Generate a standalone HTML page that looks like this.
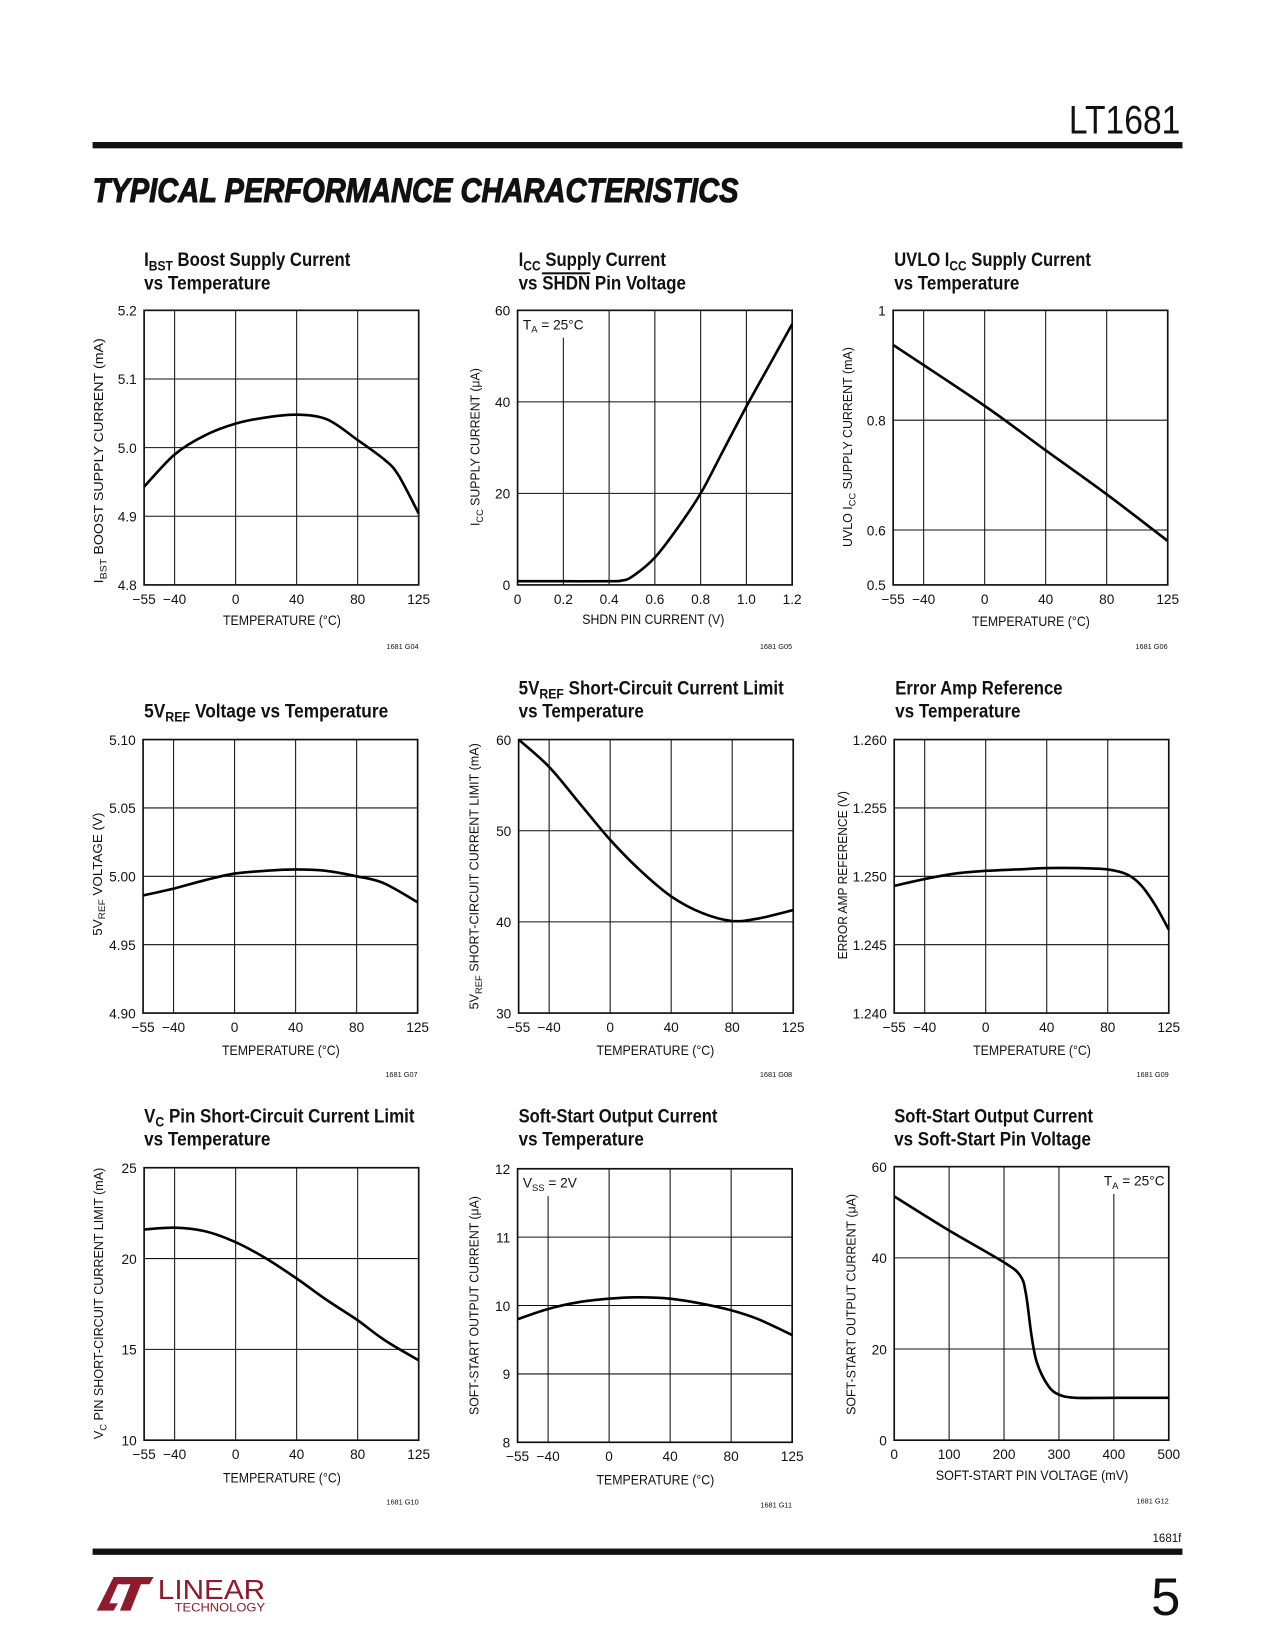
<!DOCTYPE html>
<html><head><meta charset="utf-8"><style>
html,body{margin:0;padding:0;background:#fff;}
svg{display:block;}
text{font-family:"Liberation Sans",sans-serif;fill:#111;}
</style></head><body>
<svg id="page" width="1275" height="1650" viewBox="0 0 1275 1650" xmlns="http://www.w3.org/2000/svg">
<g id="root" transform="scale(1.052)">
<text x="1122" y="127" font-size="38" text-anchor="end" textLength="106" lengthAdjust="spacingAndGlyphs">LT1681</text>
<rect x="88" y="135" width="1036" height="6" fill="#111"/>
<text x="88" y="192" font-size="33" font-weight="bold" font-style="italic" textLength="614" lengthAdjust="spacingAndGlyphs" stroke="#111" stroke-width="1">TYPICAL PERFORMANCE CHARACTERISTICS</text>

<g font-size="18" font-weight="bold">
<text x="137" y="253" textLength="196" lengthAdjust="spacingAndGlyphs">I<tspan font-size="13" dy="4">BST</tspan><tspan dy="-4"> Boost Supply Current</tspan></text>
<text x="137" y="275" textLength="120" lengthAdjust="spacingAndGlyphs">vs Temperature</text>
<text x="493" y="253" textLength="140" lengthAdjust="spacingAndGlyphs">I<tspan font-size="13" dy="4">CC</tspan><tspan dy="-4"> Supply Current</tspan></text>
<text x="493" y="275" textLength="159" lengthAdjust="spacingAndGlyphs">vs <tspan text-decoration="overline">SHDN</tspan> Pin Voltage</text>
<line x1="515" y1="260" x2="558" y2="260" stroke="#111" stroke-width="1.5"/>
<text x="850" y="253" textLength="187" lengthAdjust="spacingAndGlyphs">UVLO I<tspan font-size="13" dy="4">CC</tspan><tspan dy="-4"> Supply Current</tspan></text>
<text x="850" y="275" textLength="119" lengthAdjust="spacingAndGlyphs">vs Temperature</text>
<text x="137" y="682" textLength="232" lengthAdjust="spacingAndGlyphs">5V<tspan font-size="13" dy="4">REF</tspan><tspan dy="-4"> Voltage vs Temperature</tspan></text>
<text x="493" y="660" textLength="252" lengthAdjust="spacingAndGlyphs">5V<tspan font-size="13" dy="4">REF</tspan><tspan dy="-4"> Short-Circuit Current Limit</tspan></text>
<text x="493" y="682" textLength="119" lengthAdjust="spacingAndGlyphs">vs Temperature</text>
<text x="851" y="660" textLength="159" lengthAdjust="spacingAndGlyphs">Error Amp Reference</text>
<text x="851" y="682" textLength="119" lengthAdjust="spacingAndGlyphs">vs Temperature</text>
<text x="137" y="1067" textLength="257" lengthAdjust="spacingAndGlyphs">V<tspan font-size="13" dy="4">C</tspan><tspan dy="-4"> Pin Short-Circuit Current Limit</tspan></text>
<text x="137" y="1089" textLength="120" lengthAdjust="spacingAndGlyphs">vs Temperature</text>
<text x="493" y="1067" textLength="189" lengthAdjust="spacingAndGlyphs">Soft-Start Output Current</text>
<text x="493" y="1089" textLength="119" lengthAdjust="spacingAndGlyphs">vs Temperature</text>
<text x="850" y="1067" textLength="189" lengthAdjust="spacingAndGlyphs">Soft-Start Output Current</text>
<text x="850" y="1089" textLength="187" lengthAdjust="spacingAndGlyphs">vs Soft-Start Pin Voltage</text>
</g>

<g font-size="12">
<text transform="translate(98,438) rotate(-90)" text-anchor="middle" textLength="233" lengthAdjust="spacingAndGlyphs">I<tspan font-size="9" dy="3">BST</tspan><tspan dy="-3"> BOOST SUPPLY CURRENT (mA)</tspan></text>
<text transform="translate(456,425) rotate(-90)" text-anchor="middle" textLength="150" lengthAdjust="spacingAndGlyphs">I<tspan font-size="9" dy="3">CC</tspan><tspan dy="-3"> SUPPLY CURRENT (μA)</tspan></text>
<text transform="translate(810,425) rotate(-90)" text-anchor="middle" textLength="190" lengthAdjust="spacingAndGlyphs">UVLO I<tspan font-size="9" dy="3">CC</tspan><tspan dy="-3"> SUPPLY CURRENT (mA)</tspan></text>
<text transform="translate(97,831) rotate(-90)" text-anchor="middle" textLength="117" lengthAdjust="spacingAndGlyphs">5V<tspan font-size="9" dy="3">REF</tspan><tspan dy="-3"> VOLTAGE (V)</tspan></text>
<text transform="translate(455,833) rotate(-90)" text-anchor="middle" textLength="253" lengthAdjust="spacingAndGlyphs">5V<tspan font-size="9" dy="3">REF</tspan><tspan dy="-3"> SHORT-CIRCUIT CURRENT LIMIT (mA)</tspan></text>
<text transform="translate(805,832) rotate(-90)" text-anchor="middle" textLength="160" lengthAdjust="spacingAndGlyphs">ERROR AMP REFERENCE (V)</text>
<text transform="translate(98,1239) rotate(-90)" text-anchor="middle" textLength="258" lengthAdjust="spacingAndGlyphs">V<tspan font-size="9" dy="3">C</tspan><tspan dy="-3"> PIN SHORT-CIRCUIT CURRENT LIMIT (mA)</tspan></text>
<text transform="translate(455,1241) rotate(-90)" text-anchor="middle" textLength="208" lengthAdjust="spacingAndGlyphs">SOFT-START OUTPUT CURRENT (μA)</text>
<text transform="translate(813,1240) rotate(-90)" text-anchor="middle" textLength="210" lengthAdjust="spacingAndGlyphs">SOFT-START OUTPUT CURRENT (μA)</text>
</g>

<g font-size="13" text-anchor="middle">
<text x="268" y="594" textLength="112" lengthAdjust="spacingAndGlyphs">TEMPERATURE (°C)</text>
<text x="621" y="593" textLength="135" lengthAdjust="spacingAndGlyphs">SHDN PIN CURRENT (V)</text>
<text x="980" y="595" textLength="112" lengthAdjust="spacingAndGlyphs">TEMPERATURE (°C)</text>
<text x="267" y="1003" textLength="112" lengthAdjust="spacingAndGlyphs">TEMPERATURE (°C)</text>
<text x="623" y="1003" textLength="112" lengthAdjust="spacingAndGlyphs">TEMPERATURE (°C)</text>
<text x="981" y="1003" textLength="112" lengthAdjust="spacingAndGlyphs">TEMPERATURE (°C)</text>
<text x="268" y="1409" textLength="112" lengthAdjust="spacingAndGlyphs">TEMPERATURE (°C)</text>
<text x="623" y="1411" textLength="112" lengthAdjust="spacingAndGlyphs">TEMPERATURE (°C)</text>
<text x="981" y="1407" textLength="183" lengthAdjust="spacingAndGlyphs">SOFT-START PIN VOLTAGE (mV)</text>
</g>

<g font-size="7" text-anchor="end">
<text x="398" y="617">1681 G04</text>
<text x="753" y="617">1681 G05</text>
<text x="1110" y="617">1681 G06</text>
<text x="397" y="1024">1681 G07</text>
<text x="753" y="1024">1681 G08</text>
<text x="1111" y="1024">1681 G09</text>
<text x="398" y="1430">1681 G10</text>
<text x="753" y="1433">1681 G11</text>
<text x="1111" y="1429">1681 G12</text>
</g>

<g id="charts"></g>

<text x="1123" y="1466" font-size="11" text-anchor="end">1681f</text>
<rect x="88" y="1472" width="1036" height="6" fill="#111"/>
<g>
<polygon points="92,1531 108,1499 126,1499 120,1506 112,1506 104,1524 112,1524 108,1531" fill="#8e1b2d"/>
<polygon points="114,1531 124,1506 116,1506 120,1499 146,1499 142,1506 134,1506 124,1531" fill="#8e1b2d"/>
<text x="150" y="1520" font-size="26" style="fill:#8e1b2d" textLength="102" lengthAdjust="spacingAndGlyphs">LINEAR</text>
<text x="166" y="1532" font-size="11" style="fill:#8e1b2d" textLength="86" lengthAdjust="spacingAndGlyphs">TECHNOLOGY</text>
</g>
<text x="1122" y="1535" font-size="50" text-anchor="end">5</text>
</g>
</svg>
<script>
const tempTicks = [-55, -40, 0, 40, 80, 125];
const tempTickLabels = ["\u221255", "\u221240", "0", "40", "80", "125"];
const tempGrid = [-40, 0, 40, 80];

const c1Temp = [-55, -40, -20, 0, 20, 40, 60, 80, 100, 110, 125];
const c1Current = [4.943, 4.99, 5.018, 5.035, 5.044, 5.048, 5.041, 5.011, 4.982, 4.96, 4.904];
const c1YTicks = [4.8, 4.9, 5.0, 5.1, 5.2];
const c1YLabels = ["4.8", "4.9", "5.0", "5.1", "5.2"];

const c2Volt = [0, 0.2, 0.4, 0.45, 0.5, 0.6, 0.7, 0.8, 0.9, 1.0, 1.1, 1.2];
const c2Current = [0.8, 0.8, 0.8, 0.9, 1.8, 6, 12.5, 20, 29.5, 39, 48, 57];
const c2XTicks = [0, 0.2, 0.4, 0.6, 0.8, 1.0, 1.2];
const c2XLabels = ["0", "0.2", "0.4", "0.6", "0.8", "1.0", "1.2"];
const c2YTicks = [0, 20, 40, 60];
const c2YLabels = ["0", "20", "40", "60"];

const c3Temp = [-55, 0, 40, 80, 125];
const c3Current = [0.937, 0.826, 0.745, 0.665, 0.58];
const c3YTicks = [0.5, 0.6, 0.8, 1.0];
const c3YLabels = ["0.5", "0.6", "0.8", "1"];

const c4Temp = [-55, -40, -20, 0, 20, 40, 60, 80, 100, 125];
const c4Volt = [4.986, 4.991, 4.997, 5.002, 5.004, 5.005, 5.004, 5.0, 4.995, 4.981];
const c4YTicks = [4.90, 4.95, 5.00, 5.05, 5.10];
const c4YLabels = ["4.90", "4.95", "5.00", "5.05", "5.10"];

const c5Temp = [-55, -40, -20, 0, 20, 40, 60, 80, 100, 125];
const c5Limit = [60, 57, 53, 49, 45.6, 42.8, 41, 40.1, 40.4, 41.3];
const c5YTicks = [30, 40, 50, 60];
const c5YLabels = ["30", "40", "50", "60"];

const c6Temp = [-55, -40, -20, 0, 20, 40, 60, 80, 95, 105, 115, 125];
const c6Ref = [1.2493, 1.2498, 1.2502, 1.2504, 1.2505, 1.2506, 1.2506, 1.2505, 1.2501, 1.2493, 1.2479, 1.2461];
const c6YTicks = [1.240, 1.245, 1.250, 1.255, 1.260];
const c6YLabels = ["1.240", "1.245", "1.250", "1.255", "1.260"];

const c7Temp = [-55, -40, -20, 0, 20, 40, 60, 80, 100, 125];
const c7Limit = [21.6, 21.7, 21.5, 20.9, 20.0, 18.9, 17.7, 16.6, 15.5, 14.4];
const c7YTicks = [10, 15, 20, 25];
const c7YLabels = ["10", "15", "20", "25"];

const c8Temp = [-55, -40, -20, 0, 20, 40, 60, 80, 100, 125];
const c8Current = [9.8, 9.95, 10.05, 10.1, 10.12, 10.1, 10.03, 9.93, 9.8, 9.57];
const c8YTicks = [8, 9, 10, 11, 12];
const c8YLabels = ["8", "9", "10", "11", "12"];

const c9Volt = [0, 100, 200, 230, 240, 250, 260, 280, 300, 330, 400, 500];
const c9Current = [53.5, 46, 39, 36, 32, 23, 17, 12, 10, 9.3, 9.3, 9.3];
const c9XTicks = [0, 100, 200, 300, 400, 500];
const c9XLabels = ["0", "100", "200", "300", "400", "500"];
const c9YTicks = [0, 20, 40, 60];
const c9YLabels = ["0", "20", "40", "60"];

const NS = "http://www.w3.org/2000/svg";
const host = document.getElementById("charts");
function el(tag, attrs, parent) {
  const e = document.createElementNS(NS, tag);
  for (const k in attrs) e.setAttribute(k, attrs[k]);
  (parent || host).appendChild(e);
  return e;
}
// temperature axis (piecewise): -55→0, -40→0.5, 0→1.5, 40→2.5, 80→3.5, 125→4.5 divisions
function tempFrac(t) {
  let d;
  if (t <= -40) d = (t + 55) / 15 * 0.5;
  else if (t <= 80) d = 0.5 + (t + 40) / 40;
  else d = 3.5 + (t - 80) / 45;
  return d / 4.5;
}
function linFrac(min, max) { return v => (v - min) / (max - min); }

function smoothPath(pts) {
  let d = "M" + pts[0][0].toFixed(1) + "," + pts[0][1].toFixed(1);
  for (let i = 0; i < pts.length - 1; i++) {
    const p0 = pts[i - 1] || pts[i], p1 = pts[i], p2 = pts[i + 1], p3 = pts[i + 2] || p2;
    const c1x = p1[0] + (p2[0] - p0[0]) / 6, c1y = p1[1] + (p2[1] - p0[1]) / 6;
    const c2x = p2[0] - (p3[0] - p1[0]) / 6, c2y = p2[1] - (p3[1] - p1[1]) / 6;
    d += " C" + c1x.toFixed(1) + "," + c1y.toFixed(1) + " " + c2x.toFixed(1) + "," + c2y.toFixed(1) + " " + p2[0].toFixed(1) + "," + p2[1].toFixed(1);
  }
  return d;
}

function chart(n, box, xf, yf, xGrid, yGrid, xTicks, xLabels, yTicks, yLabels, xs, ys, note) {
  const g = el("g", {});
  
  
  const W = box.R - box.L, H = box.B - box.T;
  const X = v => box.L + xf(v) * W;
  const Y = v => box.B - yf(v) * H;
  xGrid.forEach(v => {
    const y1 = (note && note.gridX === v) ? box.T + 26 : box.T;
    const ln = el("line", {x1: X(v), x2: X(v), y1: y1, y2: box.B, stroke: "#111", "stroke-width": 1}, g);
    
    
  });
  yGrid.forEach(v => {
    const ln = el("line", {x1: box.L, x2: box.R, y1: Y(v), y2: Y(v), stroke: "#111", "stroke-width": 1}, g);
    
    
  });
  const fr = el("rect", {x: box.L, y: box.T, width: W, height: H, fill: "none", stroke: "#111", "stroke-width": 1.6}, g);
  
  
  xTicks.forEach((v, i) => {
    const t = el("text", {x: X(v), y: box.B + 18, "font-size": 13, "text-anchor": "middle"}, g);
    
    
    t.textContent = xLabels[i];
  });
  yTicks.forEach((v, i) => {
    const t = el("text", {x: box.L - 7, y: Y(v) + 5, "font-size": 13, "text-anchor": "end"}, g);
    
    
    t.textContent = yLabels[i];
  });
  const pts = xs.map((v, i) => [X(v), Y(ys[i])]);
  const p = el("path", {d: smoothPath(pts), fill: "none", stroke: "#000", "stroke-width": 2.5, "stroke-linejoin": "round"}, g);
  
  
  if (note) {
    const t = el("text", {x: note.right ? box.R - 4 : box.L + 5, y: box.T + 18, "font-size": 13, "text-anchor": note.right ? "end" : "start"}, g);
    
    
    t.innerHTML = note.html;
  }
}

chart(1, {L:137,R:398,T:295,B:556}, tempFrac, linFrac(4.8,5.2), tempGrid, [4.9,5.0,5.1], tempTicks, tempTickLabels, c1YTicks, c1YLabels, c1Temp, c1Current);
chart(2, {L:492,R:753,T:295,B:556}, linFrac(0,1.2), linFrac(0,60), [0.2,0.4,0.6,0.8,1.0], [20,40], c2XTicks, c2XLabels, c2YTicks, c2YLabels, c2Volt, c2Current,
  {gridX:0.2, html:'T<tspan font-size="9" dy="3">A</tspan><tspan dy="-3"> = 25°C</tspan>'});
chart(3, {L:849,R:1110,T:295,B:556}, tempFrac, linFrac(0.5,1.0), tempGrid, [0.6,0.8], tempTicks, tempTickLabels, c3YTicks, c3YLabels, c3Temp, c3Current);
chart(4, {L:136,R:397,T:703,B:963}, tempFrac, linFrac(4.9,5.1), tempGrid, [4.95,5.0,5.05], tempTicks, tempTickLabels, c4YTicks, c4YLabels, c4Temp, c4Volt);
chart(5, {L:493,R:754,T:703,B:963}, tempFrac, linFrac(30,60), tempGrid, [40,50], tempTicks, tempTickLabels, c5YTicks, c5YLabels, c5Temp, c5Limit);
chart(6, {L:850,R:1111,T:703,B:963}, tempFrac, linFrac(1.24,1.26), tempGrid, [1.245,1.25,1.255], tempTicks, tempTickLabels, c6YTicks, c6YLabels, c6Temp, c6Ref);
chart(7, {L:137,R:398,T:1110,B:1369}, tempFrac, linFrac(10,25), tempGrid, [15,20], tempTicks, tempTickLabels, c7YTicks, c7YLabels, c7Temp, c7Limit);
chart(8, {L:492,R:753,T:1111,B:1371}, tempFrac, linFrac(8,12), tempGrid, [9,10,11], tempTicks, tempTickLabels, c8YTicks, c8YLabels, c8Temp, c8Current,
  {gridX:-40, html:'V<tspan font-size="9" dy="3">SS</tspan><tspan dy="-3"> = 2V</tspan>'});
chart(9, {L:850,R:1111,T:1109,B:1369}, linFrac(0,500), linFrac(0,60), [100,200,300,400], [20,40], c9XTicks, c9XLabels, c9YTicks, c9YLabels, c9Volt, c9Current,
  {gridX:400, right:true, html:'T<tspan font-size="9" dy="3">A</tspan><tspan dy="-3"> = 25°C</tspan>'});
</script>
</body></html>
